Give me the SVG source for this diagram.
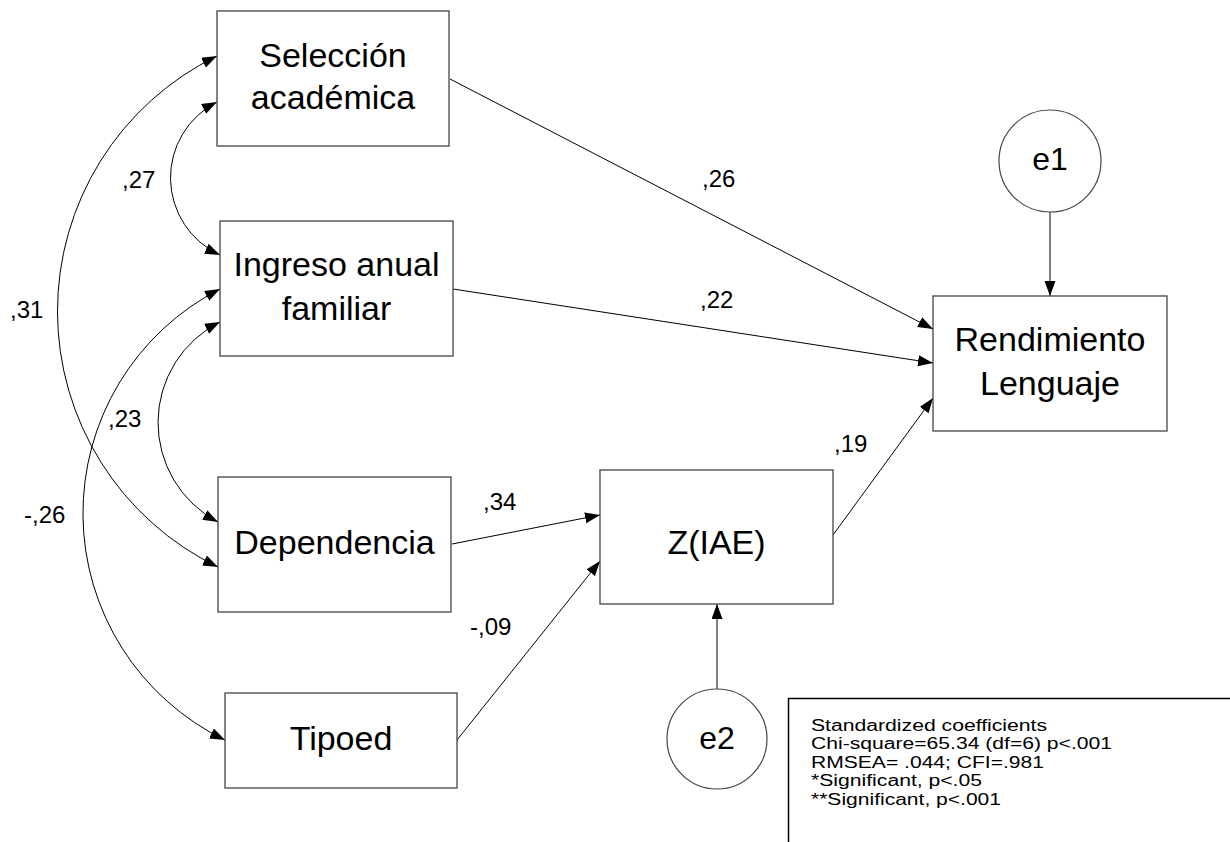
<svg xmlns="http://www.w3.org/2000/svg" width="1230" height="842" viewBox="0 0 1230 842">
<style>
.box{fill:#fff;stroke:#444;stroke-width:1.3}
.err{fill:#fff;stroke:#444;stroke-width:1.2}
.nt{font-family:"Liberation Sans",Arial,sans-serif;font-size:34px;fill:#000;text-anchor:middle}
.et{font-family:"Liberation Sans",Arial,sans-serif;font-size:32px;fill:#000;text-anchor:middle}
.lb{font-family:"Liberation Sans",Arial,sans-serif;font-size:24px;fill:#000}
.lg{font-family:"Liberation Sans",Arial,sans-serif;font-size:16px;fill:#000}
.c{fill:none;stroke:#000;stroke-width:1}
.one{marker-end:url(#ah)}
.two{marker-start:url(#ah);marker-end:url(#ah)}
</style>
<defs>
<marker id="ah" markerUnits="userSpaceOnUse" markerWidth="16" markerHeight="12" refX="15" refY="5.5" orient="auto-start-reverse">
<path d="M0,0 L15,5.5 L0,11 z" fill="#000"/>
</marker>
</defs>
<rect width="1230" height="842" fill="#fff"/>
<g id="connectors">
<path class="c one" d="M450,79 L933,329"/>
<path class="c one" d="M453,289 L933,363"/>
<path class="c one" d="M833,535 L933,398"/>
<path class="c one" d="M1050,212 L1050,296"/>
<path class="c one" d="M452,544 L600,515"/>
<path class="c one" d="M457,740 L600,561"/>
<path class="c one" d="M717,689 L717,604"/>
<path class="c two" d="M217,102 A85,85 0 0 0 220,255"/>
<path class="c two" d="M217,56 A284,284 0 0 0 218,567"/>
<path class="c two" d="M220,322 A112.5,112.5 0 0 0 218,522"/>
<path class="c two" d="M220,289 A252,252 0 0 0 225,740"/>
<text class="lb" x="702" y="187">,26</text>
<text class="lb" x="700" y="308">,22</text>
<text class="lb" x="834" y="452">,19</text>
<text class="lb" x="483" y="510">,34</text>
<text class="lb" x="470" y="635">-,09</text>
<text class="lb" x="122" y="188">,27</text>
<text class="lb" x="10" y="318">,31</text>
<text class="lb" x="108" y="427">,23</text>
<text class="lb" x="24" y="523">-,26</text>
</g>
<g id="seleccion">
<rect class="box" x="217" y="11" width="232" height="135"/>
<text class="nt" x="333" y="67">Selección</text>
<text class="nt" x="333" y="109">académica</text>
</g>
<g id="ingreso">
<rect class="box" x="220" y="221" width="233" height="135"/>
<text class="nt" x="336.5" y="276">Ingreso anual</text>
<text class="nt" x="336.5" y="320">familiar</text>
</g>
<g id="dependencia">
<rect class="box" x="218" y="477" width="233" height="135"/>
<text class="nt" x="334.5" y="554">Dependencia</text>
</g>
<g id="tipoed">
<rect class="box" x="225" y="693" width="232" height="95"/>
<text class="nt" x="341" y="750">Tipoed</text>
</g>
<g id="ziae">
<rect class="box" x="600" y="470" width="233" height="134"/>
<text class="nt" x="716.5" y="554">Z(IAE)</text>
</g>
<g id="rendimiento">
<rect class="box" x="933" y="296" width="234" height="135"/>
<text class="nt" x="1050" y="351">Rendimiento</text>
<text class="nt" x="1050" y="395">Lenguaje</text>
</g>
<g id="e1">
<circle class="err" cx="1050" cy="161" r="51"/>
<text class="et" x="1050" y="170">e1</text>
</g>
<g id="e2">
<circle class="err" cx="717" cy="739" r="50"/>
<text class="et" x="717" y="749">e2</text>
</g>
<g id="legend">
<rect x="788.5" y="698.5" width="460" height="200" fill="#fff" stroke="#000" stroke-width="1.5"/>
<text class="lg" x="811" y="730.5" textLength="236" lengthAdjust="spacingAndGlyphs">Standardized coefficients</text>
<text class="lg" x="811" y="749" textLength="301" lengthAdjust="spacingAndGlyphs">Chi-square=65.34 (df=6) p&lt;.001</text>
<text class="lg" x="811" y="767.5" textLength="233" lengthAdjust="spacingAndGlyphs">RMSEA= .044; CFI=.981</text>
<text class="lg" x="811" y="786" textLength="171" lengthAdjust="spacingAndGlyphs">*Significant, p&lt;.05</text>
<text class="lg" x="811" y="804.5" textLength="190" lengthAdjust="spacingAndGlyphs">**Significant, p&lt;.001</text>
</g>
</svg>
